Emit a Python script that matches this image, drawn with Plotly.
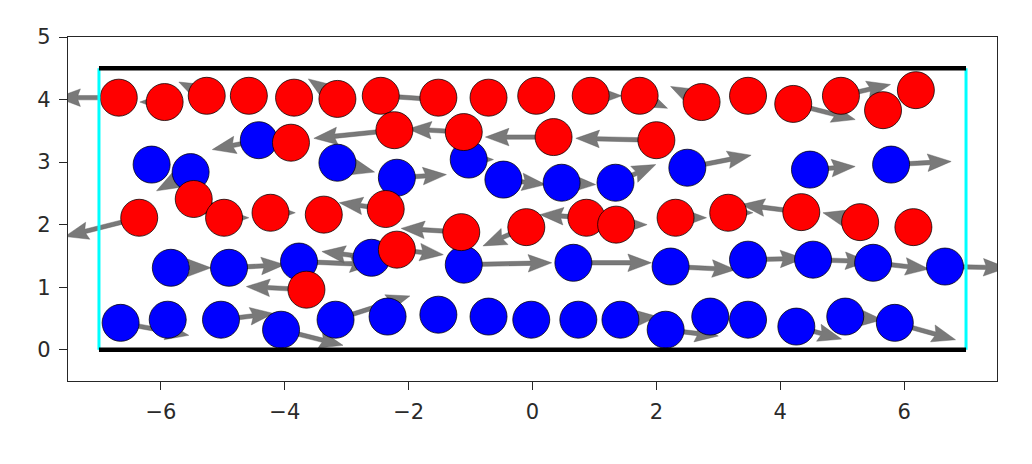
import numpy as np
import plotly.graph_objects as go

# ---- particle data ----
red_x = [-6.68, -5.94, -5.26, -4.58, -3.85, -3.15, -2.45, -1.52, -0.71, 0.06, 0.94, 1.73, 2.73, 3.48, 4.21, 4.98, 5.66, 6.19,
         -3.90, -2.23, -1.11, 0.34, 2.00,
         -6.35, -5.47, -4.98, -4.23, -3.37, -2.37, -2.19, -1.15, -0.10, 0.87, 1.35, 2.31, 3.16, 4.34, 5.29, 6.15,
         -3.65]
red_y = [4.03, 3.96, 4.06, 4.06, 4.03, 4.01, 4.06, 4.03, 4.03, 4.06, 4.06, 4.06, 3.96, 4.06, 3.93, 4.06, 3.83, 4.15,
         3.31, 3.51, 3.48, 3.40, 3.35,
         2.11, 2.41, 2.11, 2.19, 2.16, 2.25, 1.60, 1.88, 1.96, 2.11, 2.00, 2.11, 2.19, 2.20, 2.04, 1.96,
         0.96]
red_u = [-1.0, -0.4, -0.45, 0.3, 0.3, -0.47, 1.2, 0.3, 0.3, 0.3, 0.5, 0.45, -0.5, 0.3, 1.0, 0.8, 0.2, 0.2,
         -0.3, -1.3, -0.9, -1.1, -1.3,
         -1.2, 0.5, 0.4, 0.4, 0.3, -0.75, 0.75, -0.97, -0.7, -0.75, 0.5, 0.5, 0.4, -0.97, -0.6, 0.3,
         -0.97]
red_v = [0.0, 0.0, 0.22, 0.0, 0.0, 0.32, -0.08, 0.0, 0.0, 0.0, 0.0, -0.2, 0.25, 0.0, -0.25, 0.18, 0.0, 0.0,
         0.0, -0.13, 0.05, 0.0, 0.03,
         -0.3, -0.3, 0.0, 0.0, 0.0, 0.1, -0.08, 0.06, -0.3, 0.05, 0.0, 0.0, 0.0, 0.12, 0.15, 0.0,
         0.05]

blue_x = [-6.15, -5.52, -4.42, -3.15, -2.19, -1.03, -0.47, 0.47, 1.34, 2.50, 4.48, 5.79,
          -5.84, -4.90, -3.77, -2.60, -1.11, 0.66, 2.23, 3.48, 4.53, 5.50, 6.66,
          -6.65, -5.89, -5.03, -4.06, -3.18, -2.34, -1.52, -0.71, -0.02, 0.74, 1.42, 2.15, 2.87, 3.48, 4.26, 5.05, 5.85]
blue_y = [2.96, 2.84, 3.35, 2.99, 2.75, 3.04, 2.72, 2.67, 2.67, 2.91, 2.88, 2.96,
          1.31, 1.31, 1.41, 1.47, 1.36, 1.39, 1.33, 1.44, 1.44, 1.39, 1.33,
          0.43, 0.48, 0.48, 0.32, 0.48, 0.53, 0.56, 0.53, 0.48, 0.48, 0.48, 0.32, 0.53, 0.48, 0.37, 0.53, 0.43]
blue_u = [0.3, -0.55, -0.75, 0.6, 0.8, 0.4, 0.68, 0.55, 0.65, 1.03, 0.73, 0.97,
          0.65, 0.9, 1.2, -0.8, 1.42, 1.26, 1.05, 0.9, 0.9, 0.9, 1.0,
          1.1, 0.3, 0.85, 1.0, 1.2, 0.3, 0.3, 0.3, 0.3, 0.3, 0.6, 0.85, 0.3, 0.3, 0.73, 0.6, 0.98]
blue_v = [0.0, -0.3, -0.15, -0.15, 0.05, 0.0, -0.08, -0.03, 0.29, 0.2, 0.05, 0.05,
          0.0, 0.05, -0.05, 0.1, 0.03, 0.0, -0.05, 0.02, -0.03, -0.1, -0.02,
          -0.2, 0.0, 0.1, -0.25, 0.38, 0.0, 0.0, 0.0, 0.0, 0.0, 0.05, -0.1, 0.0, 0.0, -0.2, -0.05, -0.27]

# channel walls
wall_y = [0.0, 4.5]
wall_x = [-7.0, 7.0]

x_ticks = [-6, -4, -2, 0, 2, 4, 6]
y_ticks = [0, 1, 2, 3, 4, 5]


def arrow_polys(xs, ys, us, vs, w=0.07, hl=0.38, hal=0.34, hw=0.14):
    px, py = [], []
    for x, y, u, v in zip(xs, ys, us, vs):
        L = np.hypot(u, v)
        if L == 0:
            continue
        dx, dy = u / L, v / L
        nx, ny = -dy, dx
        s = min(1.0, L / hl)
        h1, h2, hh = hl * s, hal * s, hw * s
        tx, ty = x + u, y + v
        pts = [
            (x + nx * w / 2, y + ny * w / 2),
            (tx - dx * h2 + nx * w / 2, ty - dy * h2 + ny * w / 2),
            (tx - dx * h1 + nx * hh, ty - dy * h1 + ny * hh),
            (tx, ty),
            (tx - dx * h1 - nx * hh, ty - dy * h1 - ny * hh),
            (tx - dx * h2 - nx * w / 2, ty - dy * h2 - ny * w / 2),
            (x - nx * w / 2, y - ny * w / 2),
            (x + nx * w / 2, y + ny * w / 2),
        ]
        for a, b in pts:
            px.append(a)
            py.append(b)
        px.append(None)
        py.append(None)
    return px, py


fig = go.Figure()

ax_, ay_ = arrow_polys(blue_x + red_x, blue_y + red_y, blue_u + red_u, blue_v + red_v)
fig.add_trace(go.Scatter(x=ax_, y=ay_, mode="lines", fill="toself",
                         fillcolor="rgba(88,88,88,0.8)", line=dict(width=0.5, color="rgba(88,88,88,0.8)"),
                         hoverinfo="skip", showlegend=False))

fig.add_trace(go.Scatter(x=blue_x, y=blue_y, mode="markers", showlegend=False,
                         marker=dict(size=37, color="#0000ff", line=dict(width=1, color="rgba(0,0,0,0.75)"))))
fig.add_trace(go.Scatter(x=red_x, y=red_y, mode="markers", showlegend=False,
                         marker=dict(size=37, color="#ff0000", line=dict(width=1, color="rgba(0,0,0,0.75)"))))

for xv in wall_x:
    fig.add_trace(go.Scatter(x=[xv, xv], y=[wall_y[0], wall_y[1]], mode="lines", showlegend=False,
                             line=dict(color="#00ffff", width=3), hoverinfo="skip"))
for yv in wall_y:
    fig.add_trace(go.Scatter(x=[wall_x[0], wall_x[1]], y=[yv, yv], mode="lines", showlegend=False,
                             line=dict(color="#000000", width=4.5), hoverinfo="skip"))

fig.update_layout(
    width=1024, height=456,
    margin=dict(l=60, r=35, t=29, b=83),
    paper_bgcolor="white", plot_bgcolor="white",
    font=dict(family="DejaVu Sans", size=21, color="#2a2a2a"),
    showlegend=False,
)
fig.update_xaxes(range=[-7.5, 7.5], tickvals=x_ticks, showgrid=False, zeroline=False,
                 showline=True, mirror=True, linecolor="#262626", linewidth=1.3,
                 ticks="outside", ticklen=8, tickwidth=1.3, tickcolor="#262626", ticklabelstandoff=4)
fig.update_yaxes(range=[-0.5, 5], tickvals=y_ticks, showgrid=False, zeroline=False,
                 showline=True, mirror=True, linecolor="#262626", linewidth=1.3,
                 ticks="outside", ticklen=8, tickwidth=1.3, tickcolor="#262626", ticklabelstandoff=4)

fig.write_html("out.html")
